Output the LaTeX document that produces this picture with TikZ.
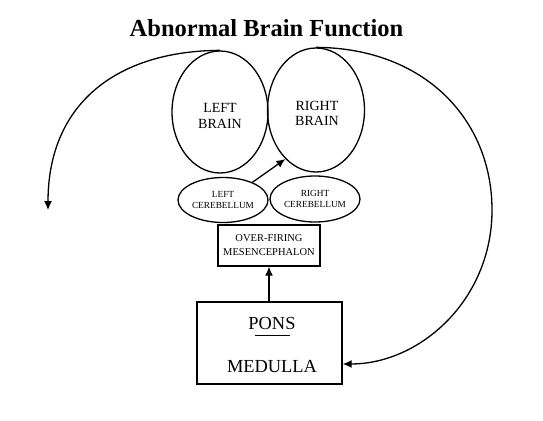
\documentclass[tikz,border=0pt]{standalone}
\usepackage{fontspec}
\setmainfont{Liberation Serif}
\usetikzlibrary{shapes.geometric,arrows.meta,calc}
\begin{document}
\begin{tikzpicture}[x=1pt,y=-1pt,
  line width=1.3pt,
  lobe/.style={draw,ellipse,inner sep=0pt},
  lobetext/.style={align=center,inner sep=0pt,font=\fontsize{14}{15.5}\selectfont},
  cereb/.style={draw,ellipse,inner sep=0pt,align=center,font=\fontsize{9.3}{11}\selectfont},
  boxx/.style={draw,rectangle,inner sep=0pt,align=center},
  arr/.style={-{Latex[length=9pt,width=8pt]}}
]
\useasboundingbox (0,0) rectangle (543,420);
\node[anchor=base,font=\bfseries\fontsize{24.5}{28}\selectfont] (title) at (266.5,37) {Abnormal Brain Function};

\node[lobe,minimum width=96pt,minimum height=122pt] (lb) at (220,112) {};
\node[lobe,minimum width=97pt,minimum height=124pt] (rb) at (316,110) {};
\node[lobetext] (lbt) at (220,116) {LEFT\\BRAIN};
\node[lobetext] (rbt) at (317,113.5) {RIGHT\\BRAIN};
\node[cereb,minimum width=90pt,minimum height=45pt] (lc) at (223,200) {LEFT\\CEREBELLUM};
\node[cereb,minimum width=90pt,minimum height=46pt] (rc) at (315,199) {RIGHT\\CEREBELLUM};
\node[boxx,minimum width=102pt,minimum height=41pt,font=\fontsize{10.5}{14}\selectfont] (mes) at (269,245.5) {OVER-FIRING\\MESENCEPHALON};
\node[boxx,minimum width=145pt,minimum height=82pt] (pons) at (269.5,343) {};
\node[font=\fontsize{18.4}{20}\selectfont] (ponslbl) at (272,323) {PONS};
\node[font=\fontsize{18.4}{20}\selectfont] (medlbl) at (272,367) {MEDULLA};
\draw[line width=1pt] ($(ponslbl.base)+(-17.5,6.5)$) -- ++(35,0);

\coordinate (lefttip) at (48,210);
\coordinate (rightmax) at (492,210);

\draw[arr] (pons.north -| 269,0) -- (mes.south -| 269,0);
\draw[arr] (lc.31) -- (rb.238);
\draw[arr] (lb.north) .. controls (115,51) and (48,105) .. (lefttip);
\draw[arr] (rb.north) .. controls (425,48) and (492,120) .. (rightmax)
  .. controls (492,300) and (420,364) .. (pons.-16);
\end{tikzpicture}
\end{document}
